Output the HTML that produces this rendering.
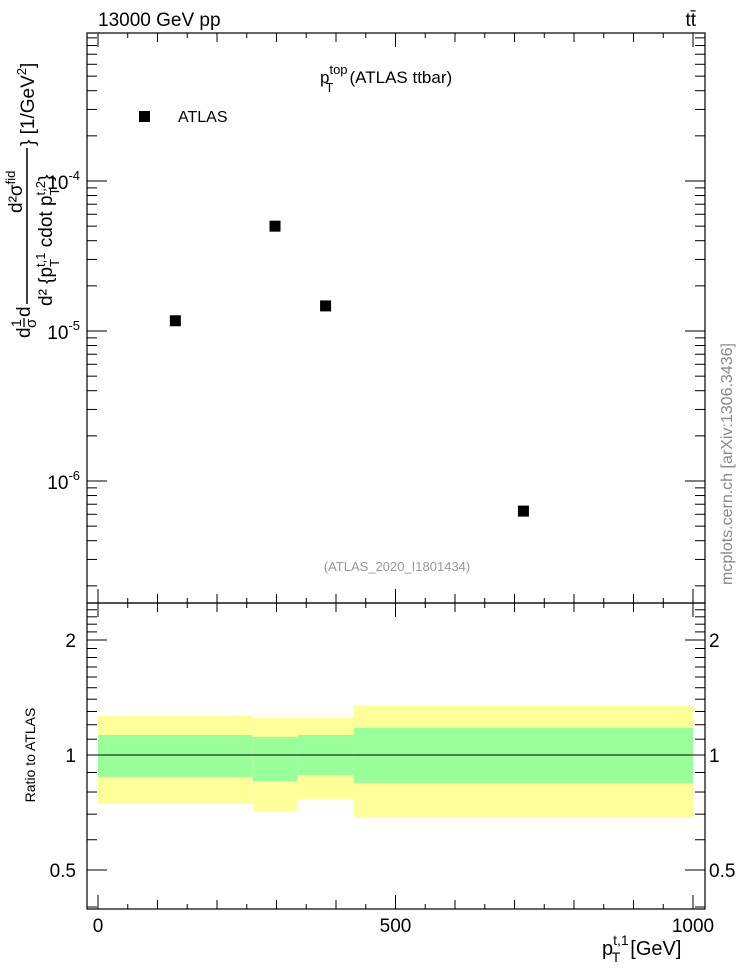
<!DOCTYPE html>
<html><head><meta charset="utf-8"><style>
body{margin:0;background:#fff;font-family:"Liberation Sans",sans-serif}
svg text{font-family:"Liberation Sans",sans-serif}
</style></head><body>
<svg id="c" width="746" height="972" xmlns="http://www.w3.org/2000/svg">
<text x="98" y="26" font-size="19">13000 GeV pp</text>
<text x="696" y="26" font-size="19" text-anchor="end">tt̄</text>
<text x="320" y="83" font-size="17">p<tspan dy="-9" font-size="13">top</tspan><tspan dx="-22" dy="18" font-size="13">T</tspan><tspan dx="16" dy="-9">(ATLAS ttbar)</tspan></text>
<rect x="139" y="111" width="11" height="11" fill="#000"/>
<text x="178" y="122" font-size="16">ATLAS</text>
<text x="397" y="571" font-size="13" fill="#999" text-anchor="middle">(ATLAS_2020_I1801434)</text>
<text transform="translate(732,464) rotate(-90)" font-size="16" fill="#888" text-anchor="middle">mcplots.cern.ch [arXiv:1306.3436]</text>
<g transform="translate(0,338) rotate(-90)">
<text x="0" y="30" font-size="19">d</text>
<text x="11" y="21" font-size="14">1</text>
<line x1="11" y1="24" x2="20" y2="24" stroke="#000" stroke-width="1.3"/>
<text x="10" y="36" font-size="15">σ</text>
<text x="21" y="30" font-size="19">d</text>
<line x1="34" y1="27" x2="190" y2="27" stroke="#000" stroke-width="1.5"/>
<text x="125" y="22" font-size="19">d²σ<tspan dy="-7" font-size="13">fid</tspan></text>
<text x="32" y="52" font-size="19">d² {p<tspan dy="7" font-size="13">T</tspan><tspan dx="-8" dy="-14" font-size="13">t,1</tspan><tspan dy="7"> cdot p</tspan><tspan dy="7" font-size="13">T</tspan><tspan dx="-8" dy="-14" font-size="13">t,2</tspan><tspan dy="7">}</tspan></text>
<text x="192" y="34" font-size="19">} [1/GeV<tspan dy="-8" font-size="13">2</tspan><tspan dy="8">]</tspan></text>
</g>
<text x="602" y="955" font-size="20">p<tspan dy="-10" font-size="14">t,1</tspan><tspan dx="-17" dy="17" font-size="14">T</tspan><tspan dx="10" dy="-7">[GeV]</tspan></text>
<text transform="translate(35,755) rotate(-90)" font-size="14" text-anchor="middle">Ratio to ATLAS</text>
<g id="g"></g>
</svg>
<script>
const binEdges=[0,260,335,430,1000];
const xsec=[1.17e-5,5.0e-5,1.47e-5,6.3e-7];
const yelHi=[1.265,1.25,1.25,1.35];
const yelLo=[0.745,0.713,0.767,0.688];
const grnHi=[1.128,1.115,1.128,1.177];
const grnLo=[0.876,0.855,0.886,0.845];
const xTicks=[0,500,1000];
const ratioTicks=[0.5,1,2];
const NS='http://www.w3.org/2000/svg';
const L=87,R=705,T=33,M=603,B=909;
const X=v=>98+v*(693-98)/1000;
const Y=v=>181-(Math.log10(v)+4)*150;
const RY=v=>755-Math.log10(v)*382;
const g=document.getElementById('g');
function el(t,a){const e=document.createElementNS(NS,t);for(const k in a)e.setAttribute(k,a[k]);g.appendChild(e);return e;}
for(let i=0;i<4;i++){
 let e=el('rect',{x:X(binEdges[i]),width:X(binEdges[i+1])-X(binEdges[i]),y:RY(yelHi[i]),height:RY(yelLo[i])-RY(yelHi[i]),fill:'#ffff99'});
 
 
 e=el('rect',{x:X(binEdges[i]),width:X(binEdges[i+1])-X(binEdges[i]),y:RY(grnHi[i]),height:RY(grnLo[i])-RY(grnHi[i]),fill:'#99ff99'});
 
 
 const cx=X((binEdges[i]+binEdges[i+1])/2);
 e=el('rect',{x:cx-5.5,y:Y(xsec[i])-5.5,width:11,height:11,fill:'#000'});
 
 
}
let e=el('line',{x1:X(0),x2:X(1000),y1:RY(1),y2:RY(1),stroke:'#000','stroke-width':1});


e=el('rect',{x:L,y:T,width:R-L,height:M-T,fill:'none',stroke:'#000','stroke-width':1.2});


e=el('rect',{x:L,y:M,width:R-L,height:B-M,fill:'none',stroke:'#000','stroke-width':1.2});


function tk(x1,y1,x2,y2){el('line',{x1,y1,x2,y2,stroke:'#000','stroke-width':1});}
for(let v=0;v<=1000;v+=50){const x=X(v);const len=v%500==0?14:(v%100==0?9:5);
 tk(x,M,x,M-len);tk(x,T,x,T+len);tk(x,M,x,M+len);tk(x,B,x,B-len);}
for(let d=-7;d<=-3;d++)for(let m=1;m<10;m++){const y=Y(m*Math.pow(10,d));if(y<T||y>M)continue;const len=m==1?20:10;tk(L,y,L+len,y);tk(R,y,R-len,y);}
for(let v=0.4;v<=2.51;v+=0.1){const y=RY(v);if(y<M||y>B)continue;tk(L,y,L+10,y);tk(R,y,R-10,y);}
for(const v of ratioTicks){const y=RY(v);tk(L,y,L+20,y);tk(R,y,R-20,y);
 let t=el('text',{x:76,y:y+7,'font-size':19,'text-anchor':'end'});t.textContent=v;
 
 
 t=el('text',{x:709,y:y+7,'font-size':19});t.textContent=v;
 
 }
for(const v of xTicks){let t=el('text',{x:X(v),y:932,'font-size':19,'text-anchor':'middle'});t.textContent=v;
 
 }
for(const d of [-4,-5,-6]){let t=el('text',{x:80,y:Y(Math.pow(10,d))+8,'font-size':19,'text-anchor':'end'});
 t.innerHTML='10<tspan dy="-9" font-size="13">'+d+'</tspan>';
 
 }
</script>
</body></html>
